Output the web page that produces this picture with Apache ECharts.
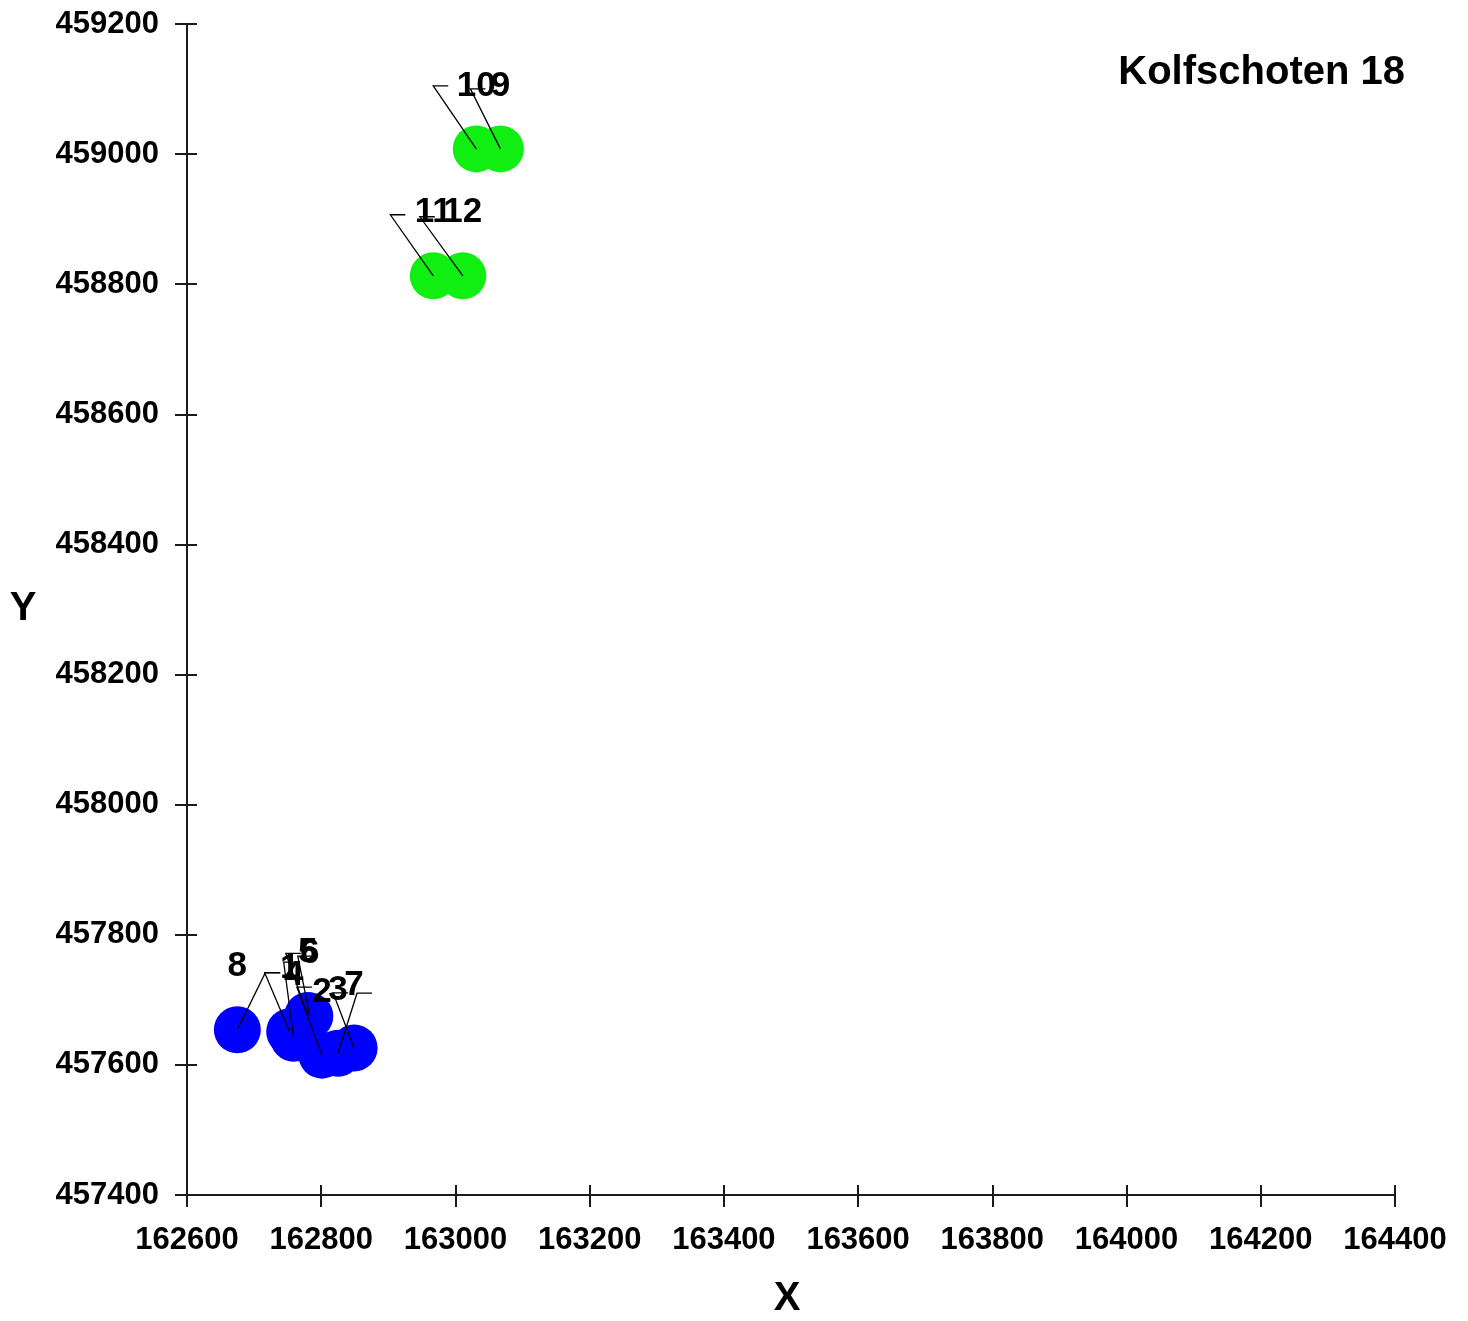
<!DOCTYPE html>
<html><head><meta charset="utf-8">
<script src="https://cdn.jsdelivr.net/npm/echarts@6/dist/echarts.min.js"></script>
<style>html,body{margin:0;padding:0;background:#fff}#c{width:1468px;height:1321px}</style>
</head><body><div id="c"></div>
<script>
// ---- data ----
const chartTitle = 'Kolfschoten 18';
const xName = 'X';
const yName = 'Y';
const xMin = 162600, xMax = 164400, xStep = 200;
const yMin = 457400, yMax = 459200, yStep = 200;

const blueLabels = ['1', '2', '3', '4', '5', '6', '7', '8'];
const blueX = [162753, 162801, 162825, 162759, 162780, 162783, 162849, 162675];
const blueY = [457651, 457615, 457618, 457641, 457676, 457675, 457626, 457654];

const greenLabels = ['9', '10', '11', '12'];
const greenX = [163067, 163031, 162967, 163011];
const greenY = [459008, 459008, 458813, 458813];

// ---- label leader-line bends (pixel style offsets from point) ----
const leaderBend = {
  '1': [-25, -59], '2': [-25, -68], '3': [19, -60], '4': [-10, -76],
  '5': [-22, -62], '6': [-12, -60], '7': [-21, -55], '8': [28, -57],
  '9': [-30, -60], '10': [-43, -63], '11': [-43, -61], '12': [-43, -59]
};
const labelOffset = [0, -63];

const FONT = '"Liberation Sans", Arial, sans-serif';
const toPts = (xs, ys, names) => xs.map((x, i) => ({ name: names[i], value: [x, ys[i]] }));
const bluePts = toPts(blueX, blueY, blueLabels);
const greenPts = toPts(greenX, greenY, greenLabels);
const allPts = bluePts.concat(greenPts);

const chart = echarts.init(document.getElementById('c'), null, { renderer: 'canvas' });

const axisCommon = (min, max, step) => ({
  type: 'value', min: min, max: max, interval: step, scale: true,
  splitLine: { show: false }
});
const tickFmt = v => String(v);

chart.setOption({
  animation: false,
  backgroundColor: '#ffffff',
  title: {
    text: chartTitle, right: 63, top: 53, padding: 0,
    textStyle: { fontSize: 40, fontWeight: 'bold', fontFamily: FONT, color: '#000' }
  },
  grid: { left: 187, right: 73, top: 24, bottom: 126, containLabel: false },
  xAxis: [
    Object.assign(axisCommon(xMin, xMax, xStep), {
      position: 'bottom',
      axisLine: { show: true, lineStyle: { color: '#1a1a1a', width: 2 } },
      axisTick: { show: true, inside: false, length: 12, lineStyle: { color: '#1a1a1a', width: 2 } },
      axisLabel: { show: true, margin: 30, fontSize: 31, fontWeight: 'bold', fontFamily: FONT, color: '#000', formatter: tickFmt }
    }),
    Object.assign(axisCommon(xMin, xMax, xStep), {
      position: 'bottom',
      axisLine: { show: false },
      axisTick: { show: true, inside: true, length: 10, lineStyle: { color: '#1a1a1a', width: 2 } },
      axisLabel: { show: false }
    })
  ],
  yAxis: [
    Object.assign(axisCommon(yMin, yMax, yStep), {
      position: 'left',
      axisLine: { show: true, lineStyle: { color: '#1a1a1a', width: 2 } },
      axisTick: { show: true, inside: false, length: 12, lineStyle: { color: '#1a1a1a', width: 2 } },
      axisLabel: { show: true, margin: 28, fontSize: 31, fontWeight: 'bold', fontFamily: FONT, color: '#000', formatter: tickFmt }
    }),
    Object.assign(axisCommon(yMin, yMax, yStep), {
      position: 'left',
      axisLine: { show: false },
      axisTick: { show: true, inside: true, length: 10, lineStyle: { color: '#1a1a1a', width: 2 } },
      axisLabel: { show: false }
    })
  ],
  graphic: [
    { type: 'text', x: 787, y: 1279, silent: true,
      style: { text: xName, fill: '#000', font: 'bold 40px ' + FONT, align: 'center', verticalAlign: 'top' } },
    { type: 'text', x: 23, y: 589, silent: true,
      style: { text: yName, fill: '#000', font: 'bold 40px ' + FONT, align: 'center', verticalAlign: 'top' } }
  ],
  series: [
    {
      type: 'scatter', name: 'blue', xAxisIndex: 0, yAxisIndex: 0, z: 2,
      data: bluePts, symbol: 'circle', symbolSize: 47,
      itemStyle: { color: '#0000ff', opacity: 1 }, silent: true
    },
    {
      type: 'scatter', name: 'green', xAxisIndex: 0, yAxisIndex: 0, z: 2,
      data: greenPts, symbol: 'circle', symbolSize: 47,
      itemStyle: { color: '#11ee11', opacity: 1 }, silent: true
    },
    {
      type: 'custom', name: 'leaders', xAxisIndex: 0, yAxisIndex: 0, z: 3, silent: true,
      data: allPts,
      renderItem: function (params, api) {
        const p = api.coord([api.value(0), api.value(1)]);
        const b = leaderBend[allPts[params.dataIndex].name] || [0, -60];
        const bx = p[0] + b[0], by = p[1] + b[1];
        return {
          type: 'polyline',
          shape: { points: [[p[0], p[1]], [bx, by], [bx + 15, by]] },
          style: { stroke: '#000', lineWidth: 1.3, fill: null }
        };
      }
    },
    {
      type: 'custom', name: 'labels', xAxisIndex: 0, yAxisIndex: 0, z: 4, silent: true,
      data: allPts,
      renderItem: function (params, api) {
        const p = api.coord([api.value(0), api.value(1)]);
        return {
          type: 'text',
          x: p[0] + labelOffset[0], y: p[1] + labelOffset[1],
          style: {
            text: allPts[params.dataIndex].name, fill: '#000',
            font: 'bold 35px ' + FONT, align: 'center', verticalAlign: 'middle'
          }
        };
      }
    }
  ]
});
</script></body></html>
